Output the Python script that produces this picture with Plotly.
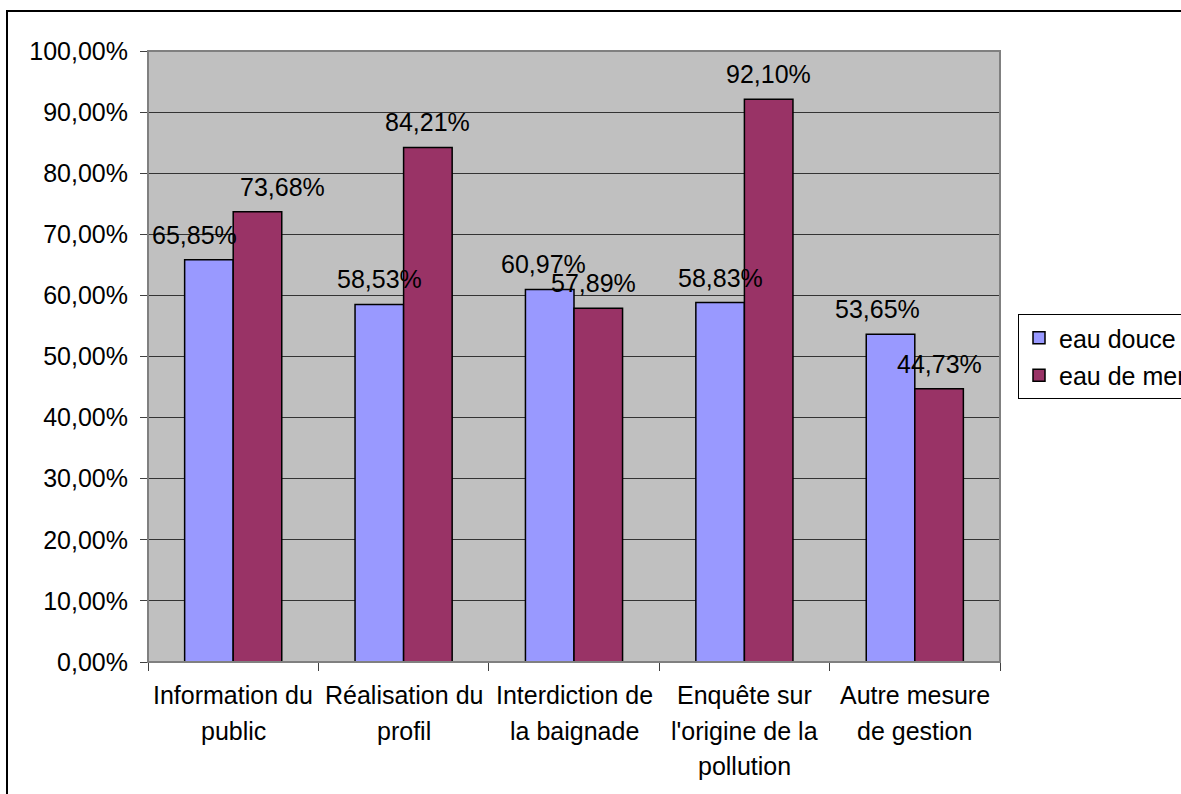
import plotly.graph_objects as go

categories = ["Information du public", "Réalisation du profil", "Interdiction de la baignade",
              "Enquête sur l'origine de la pollution", "Autre mesure de gestion"]
category_lines = [["Information du", "public"], ["Réalisation du", "profil"],
                  ["Interdiction de", "la baignade"], ["Enquête sur", "l'origine de la", "pollution"],
                  ["Autre mesure", "de gestion"]]
eau_douce = [0.6585, 0.5853, 0.6097, 0.5883, 0.5365]
eau_de_mer = [0.7368, 0.8421, 0.5789, 0.9210, 0.4473]
series_names = ["eau douce", "eau de mer"]

# manual label nudges (px) as in the reference
douce_label_dx = [-14, 0, -6, 0, -13]
mer_label_dx = [25, 0, -5, 0, 0]

FONT = "Liberation Sans, Arial, sans-serif"
FS = 25
W, H = 1181, 794
L, R, T, B = 148, 181, 51, 132
pw, ph = W - L - R, H - T - B

fig = go.Figure()
fig.add_bar(x=categories, y=eau_douce, name=series_names[0], legendgroup="a",
            marker=dict(color="#9999FF", line=dict(color="black", width=1.5)))
fig.add_bar(x=categories, y=eau_de_mer, name=series_names[1], legendgroup="b",
            marker=dict(color="#993366", line=dict(color="black", width=1.5)))

bar_w = pw / len(categories) * (1 - 0.43) / 2
annotations = []
for i, c in enumerate(categories):
    for vals, dxs, sgn in ((eau_douce, douce_label_dx, -1), (eau_de_mer, mer_label_dx, 1)):
        v = vals[i]
        txt = f"{v*100:.2f}%".replace(".", ",")
        annotations.append(dict(x=c, y=v, xref="x", yref="y", text=txt, showarrow=False,
                                xanchor="center", yanchor="middle",
                                xshift=sgn * bar_w / 2 + dxs[i], yshift=25,
                                font=dict(family=FONT, size=FS, color="black")))
    for k, line in enumerate(category_lines[i]):
        annotations.append(dict(x=c, y=0, xref="x", yref="paper", text=line, showarrow=False,
                                xanchor="center", yanchor="middle", yshift=-(33 + 35.5 * k),
                                font=dict(family=FONT, size=FS, color="black")))

fig.update_layout(
    width=W, height=H,
    margin=dict(l=L, r=R, t=T, b=B, autoexpand=False),
    paper_bgcolor="white", plot_bgcolor="#C0C0C0",
    separators=", ",
    barmode="group", bargap=0.43, bargroupgap=0,
    font=dict(family=FONT, size=FS, color="black"),
    showlegend=True,
    legend=dict(x=(1018 - L) / pw, y=(H - B - 314) / ph, xanchor="left", yanchor="top",
                bgcolor="white", bordercolor="black", borderwidth=1,
                font=dict(family=FONT, size=FS, color="black"),
                itemwidth=30, tracegroupgap=2, traceorder="grouped"),
    annotations=annotations,
    shapes=[
        dict(type="rect", xref="paper", yref="paper", x0=0, x1=1, y0=0, y1=1,
             line=dict(color="#808080", width=2), layer="above"),
        dict(type="rect", xref="paper", yref="paper",
             x0=(7 - L) / pw, x1=(W + 20 - L) / pw, y0=-(B + 20) / ph, y1=(H - B - 11) / ph,
             line=dict(color="black", width=2), layer="above"),
    ],
)
fig.update_xaxes(showticklabels=False, ticks="outside", ticklen=8, tickcolor="#404040",
                 tickson="boundaries", showline=True, linecolor="#404040", linewidth=1,
                 showgrid=False, zeroline=False)
fig.update_yaxes(range=[0, 1], dtick=0.1, tickformat=".2%", ticks="outside", ticklen=7,
                 tickcolor="#404040", ticklabelstandoff=7, showline=True, linecolor="#404040",
                 linewidth=1, showgrid=True, gridcolor="#333333", gridwidth=1, zeroline=False,
                 tickfont=dict(family=FONT, size=FS, color="black"))

fig.write_html("out.html", config={"displayModeBar": False},
               post_script="document.body.style.margin='0';document.body.style.overflow='hidden';")
